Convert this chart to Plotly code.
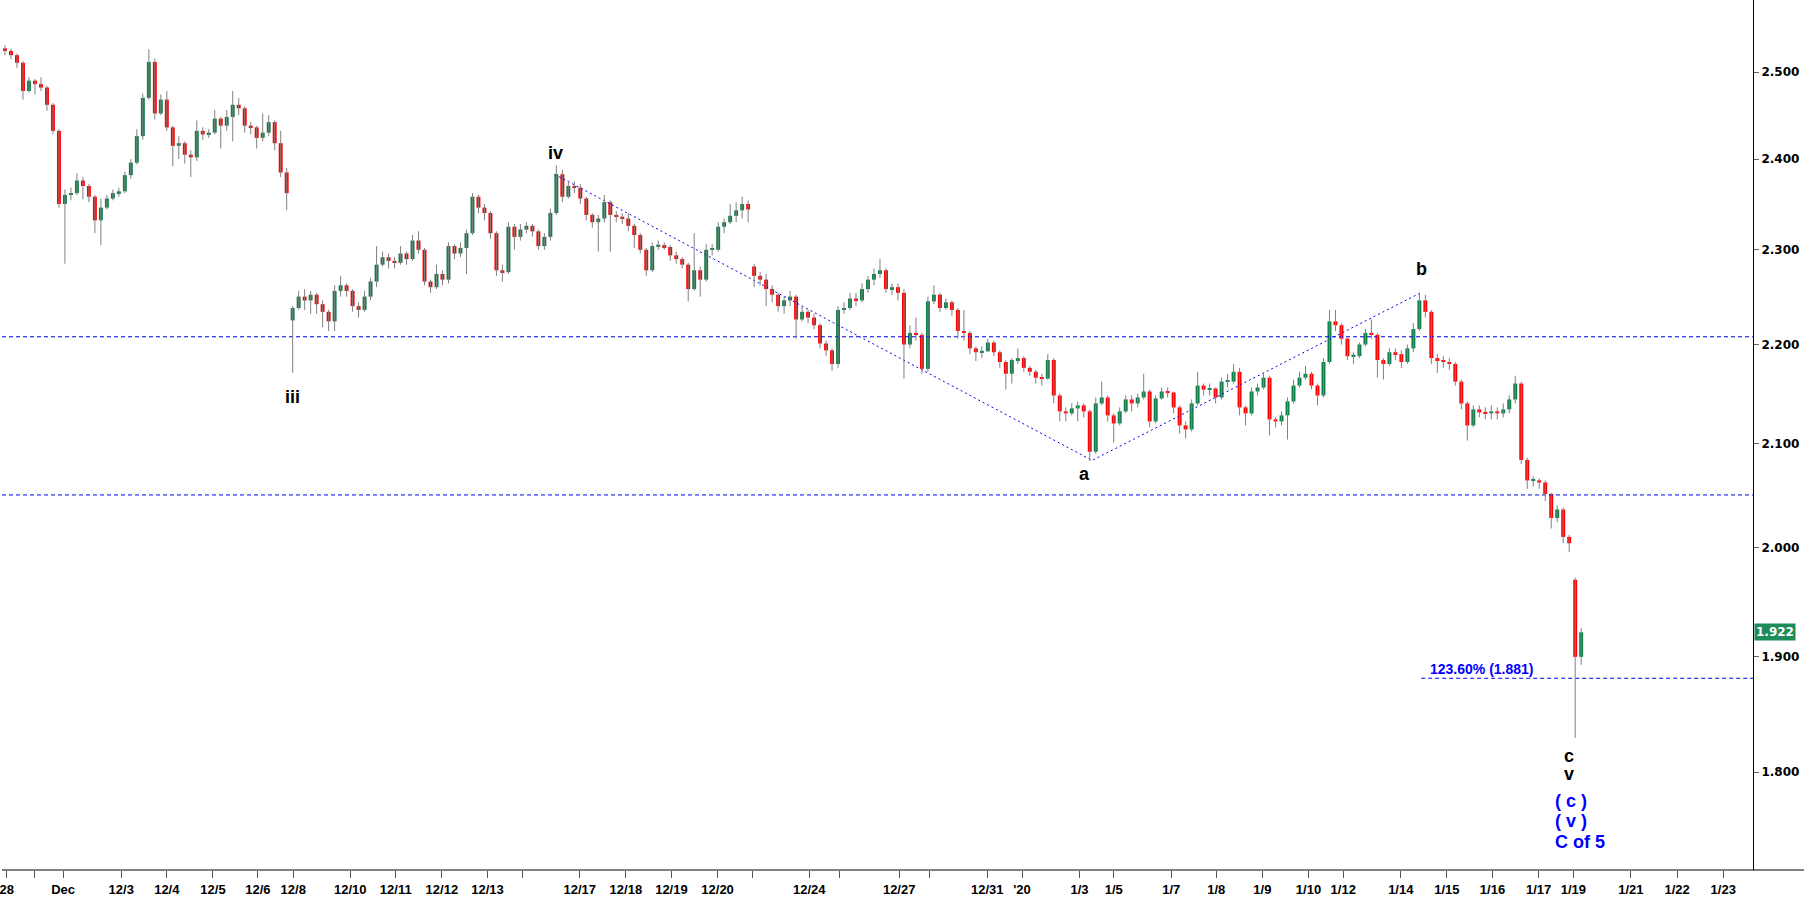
import numpy as np
import plotly.graph_objects as go

# bar-by-bar prices (one bar ~ 6 px)
open_ = [
    2.528, 2.525, 2.520, 2.511, 2.478, 2.490, 2.486, 2.482, 2.462, 2.432, 2.350, 2.360,
    2.362, 2.376, 2.370, 2.358, 2.332, 2.346, 2.356, 2.362, 2.364, 2.382, 2.396, 2.426,
    2.470, 2.512, 2.452, 2.468, 2.436, 2.415, 2.418, 2.405, 2.402, 2.432, 2.428, 2.430,
    2.446, 2.438, 2.448, 2.462, 2.458, 2.438, 2.436, 2.424, 2.430, 2.442, 2.418, 2.385,
    2.225, 2.238, 2.250, 2.246, 2.252, 2.242, 2.234, 2.224, 2.256, 2.262, 2.256, 2.240,
    2.236, 2.250, 2.266, 2.284, 2.292, 2.288, 2.286, 2.296, 2.290, 2.310, 2.300, 2.266,
    2.260, 2.274, 2.268, 2.304, 2.296, 2.302, 2.318, 2.358, 2.346, 2.340, 2.318, 2.278,
    2.276, 2.325, 2.314, 2.322, 2.326, 2.320, 2.304, 2.314, 2.340, 2.383, 2.358, 2.370,
    2.368, 2.356, 2.338, 2.330, 2.334, 2.352, 2.338, 2.336, 2.334, 2.326, 2.316, 2.300,
    2.278, 2.304, 2.305, 2.303, 2.294, 2.290, 2.284, 2.258, 2.278, 2.268, 2.300, 2.300,
    2.325, 2.330, 2.337, 2.343, 2.350, 2.282, 2.272, 2.268, 2.258, 2.252, 2.240, 2.246,
    2.250, 2.226, 2.234, 2.228, 2.220, 2.201, 2.194, 2.180, 2.236, 2.238, 2.248, 2.246,
    2.258, 2.268, 2.274, 2.278, 2.258, 2.260, 2.254, 2.200, 2.212, 2.210, 2.175, 2.245,
    2.252, 2.238, 2.244, 2.236, 2.214, 2.212, 2.196, 2.192, 2.193, 2.202, 2.192, 2.182,
    2.170, 2.184, 2.186, 2.176, 2.172, 2.166, 2.165, 2.184, 2.148, 2.132, 2.130, 2.135,
    2.138, 2.132, 2.092, 2.140, 2.146, 2.128, 2.120, 2.132, 2.144, 2.140, 2.146, 2.152,
    2.122, 2.145, 2.152, 2.151, 2.136, 2.118, 2.114, 2.140, 2.158, 2.154, 2.155, 2.146,
    2.162, 2.162, 2.172, 2.136, 2.130, 2.152, 2.156, 2.166, 2.124, 2.122, 2.128, 2.142,
    2.158, 2.166, 2.170, 2.158, 2.148, 2.182, 2.224, 2.220, 2.206, 2.188, 2.188, 2.200,
    2.212, 2.210, 2.184, 2.180, 2.192, 2.190, 2.182, 2.196, 2.216, 2.246, 2.234, 2.186,
    2.184, 2.182, 2.180, 2.162, 2.140, 2.118, 2.134, 2.131, 2.130, 2.132, 2.130, 2.134,
    2.144, 2.160, 2.084, 2.064, 2.064, 2.062, 2.051, 2.028, 2.036, 2.010, 1.970, 1.900,
]
high = [
    2.532, 2.528, 2.522, 2.513, 2.494, 2.492, 2.494, 2.484, 2.464, 2.434, 2.366, 2.368,
    2.384, 2.380, 2.372, 2.360, 2.356, 2.360, 2.366, 2.368, 2.386, 2.400, 2.434, 2.475,
    2.527, 2.516, 2.474, 2.478, 2.438, 2.426, 2.420, 2.410, 2.444, 2.436, 2.434, 2.456,
    2.448, 2.456, 2.478, 2.470, 2.460, 2.442, 2.438, 2.452, 2.450, 2.444, 2.432, 2.390,
    2.240, 2.256, 2.258, 2.256, 2.254, 2.246, 2.236, 2.262, 2.272, 2.264, 2.258, 2.244,
    2.256, 2.270, 2.304, 2.298, 2.296, 2.292, 2.304, 2.298, 2.316, 2.320, 2.302, 2.268,
    2.284, 2.278, 2.308, 2.306, 2.308, 2.322, 2.362, 2.360, 2.350, 2.342, 2.320, 2.284,
    2.330, 2.328, 2.328, 2.330, 2.328, 2.322, 2.318, 2.345, 2.393, 2.388, 2.376, 2.375,
    2.372, 2.358, 2.340, 2.338, 2.360, 2.354, 2.342, 2.340, 2.340, 2.328, 2.318, 2.302,
    2.308, 2.310, 2.308, 2.305, 2.298, 2.292, 2.286, 2.318, 2.282, 2.306, 2.306, 2.330,
    2.334, 2.350, 2.352, 2.358, 2.354, 2.285, 2.276, 2.274, 2.262, 2.254, 2.250, 2.256,
    2.252, 2.240, 2.236, 2.232, 2.222, 2.204, 2.196, 2.240, 2.244, 2.254, 2.254, 2.264,
    2.272, 2.280, 2.290, 2.280, 2.264, 2.264, 2.258, 2.220, 2.228, 2.212, 2.250, 2.262,
    2.254, 2.248, 2.246, 2.238, 2.236, 2.214, 2.198, 2.198, 2.206, 2.204, 2.194, 2.184,
    2.186, 2.196, 2.188, 2.178, 2.174, 2.170, 2.190, 2.186, 2.150, 2.136, 2.140, 2.142,
    2.140, 2.134, 2.146, 2.162, 2.148, 2.130, 2.136, 2.148, 2.148, 2.150, 2.170, 2.154,
    2.148, 2.156, 2.156, 2.152, 2.138, 2.122, 2.144, 2.172, 2.160, 2.160, 2.156, 2.166,
    2.170, 2.180, 2.176, 2.138, 2.156, 2.160, 2.170, 2.168, 2.126, 2.132, 2.146, 2.164,
    2.172, 2.178, 2.172, 2.160, 2.186, 2.236, 2.236, 2.222, 2.208, 2.192, 2.202, 2.216,
    2.226, 2.212, 2.186, 2.196, 2.196, 2.194, 2.200, 2.222, 2.254, 2.252, 2.236, 2.190,
    2.188, 2.186, 2.182, 2.164, 2.142, 2.138, 2.138, 2.136, 2.138, 2.136, 2.140, 2.148,
    2.168, 2.162, 2.086, 2.068, 2.066, 2.064, 2.052, 2.040, 2.038, 2.012, 1.972, 1.926,
]
low = [
    2.520, 2.515, 2.505, 2.468, 2.476, 2.474, 2.478, 2.455, 2.428, 2.346, 2.285, 2.354,
    2.360, 2.355, 2.352, 2.318, 2.305, 2.344, 2.354, 2.358, 2.362, 2.378, 2.394, 2.422,
    2.468, 2.445, 2.450, 2.432, 2.392, 2.400, 2.395, 2.380, 2.398, 2.422, 2.424, 2.428,
    2.412, 2.432, 2.420, 2.450, 2.430, 2.428, 2.412, 2.420, 2.426, 2.410, 2.380, 2.343,
    2.171, 2.236, 2.236, 2.232, 2.232, 2.218, 2.214, 2.214, 2.250, 2.250, 2.234, 2.228,
    2.234, 2.246, 2.260, 2.282, 2.280, 2.280, 2.284, 2.284, 2.288, 2.296, 2.262, 2.254,
    2.258, 2.262, 2.264, 2.290, 2.292, 2.274, 2.316, 2.340, 2.332, 2.312, 2.272, 2.266,
    2.274, 2.300, 2.310, 2.318, 2.314, 2.300, 2.300, 2.310, 2.338, 2.352, 2.356, 2.362,
    2.350, 2.332, 2.324, 2.298, 2.330, 2.298, 2.330, 2.328, 2.320, 2.302, 2.296, 2.272,
    2.276, 2.300, 2.300, 2.288, 2.285, 2.280, 2.245, 2.256, 2.250, 2.266, 2.294, 2.298,
    2.318, 2.328, 2.330, 2.334, 2.330, 2.260, 2.262, 2.240, 2.244, 2.234, 2.232, 2.240,
    2.206, 2.224, 2.222, 2.216, 2.196, 2.188, 2.173, 2.176, 2.232, 2.236, 2.240, 2.244,
    2.254, 2.262, 2.270, 2.254, 2.252, 2.246, 2.165, 2.196, 2.204, 2.170, 2.172, 2.242,
    2.234, 2.236, 2.230, 2.206, 2.204, 2.190, 2.183, 2.186, 2.192, 2.188, 2.176, 2.154,
    2.160, 2.180, 2.172, 2.168, 2.160, 2.158, 2.164, 2.140, 2.122, 2.122, 2.128, 2.122,
    2.126, 2.083, 2.090, 2.138, 2.122, 2.101, 2.118, 2.130, 2.132, 2.136, 2.144, 2.116,
    2.120, 2.144, 2.146, 2.130, 2.110, 2.105, 2.112, 2.138, 2.148, 2.148, 2.140, 2.144,
    2.156, 2.160, 2.128, 2.118, 2.128, 2.148, 2.154, 2.108, 2.116, 2.118, 2.104, 2.140,
    2.156, 2.164, 2.154, 2.138, 2.146, 2.180, 2.214, 2.200, 2.184, 2.180, 2.186, 2.198,
    2.206, 2.166, 2.164, 2.178, 2.184, 2.176, 2.180, 2.192, 2.214, 2.228, 2.180, 2.171,
    2.176, 2.174, 2.158, 2.134, 2.103, 2.116, 2.126, 2.124, 2.124, 2.124, 2.126, 2.130,
    2.140, 2.080, 2.056, 2.058, 2.056, 2.044, 2.018, 2.024, 2.004, 1.996, 1.829, 1.893,
]
close = [
    2.525, 2.520, 2.511, 2.478, 2.490, 2.486, 2.482, 2.462, 2.432, 2.350, 2.360, 2.362,
    2.376, 2.370, 2.358, 2.332, 2.346, 2.356, 2.362, 2.364, 2.382, 2.396, 2.426, 2.470,
    2.512, 2.452, 2.468, 2.436, 2.415, 2.418, 2.405, 2.402, 2.432, 2.428, 2.430, 2.446,
    2.438, 2.448, 2.462, 2.458, 2.438, 2.436, 2.424, 2.430, 2.442, 2.418, 2.385, 2.362,
    2.238, 2.250, 2.246, 2.252, 2.242, 2.234, 2.224, 2.256, 2.262, 2.256, 2.240, 2.236,
    2.250, 2.266, 2.284, 2.292, 2.288, 2.286, 2.296, 2.290, 2.310, 2.300, 2.266, 2.260,
    2.274, 2.268, 2.304, 2.296, 2.302, 2.318, 2.358, 2.346, 2.340, 2.318, 2.278, 2.276,
    2.325, 2.314, 2.322, 2.326, 2.320, 2.304, 2.314, 2.340, 2.383, 2.358, 2.370, 2.368,
    2.356, 2.338, 2.330, 2.334, 2.352, 2.338, 2.336, 2.334, 2.326, 2.316, 2.300, 2.278,
    2.304, 2.305, 2.303, 2.294, 2.290, 2.284, 2.258, 2.278, 2.268, 2.300, 2.300, 2.325,
    2.330, 2.337, 2.343, 2.350, 2.344, 2.272, 2.268, 2.258, 2.252, 2.240, 2.246, 2.250,
    2.226, 2.234, 2.228, 2.220, 2.201, 2.194, 2.180, 2.236, 2.238, 2.248, 2.246, 2.258,
    2.268, 2.274, 2.278, 2.258, 2.260, 2.254, 2.200, 2.212, 2.210, 2.175, 2.245, 2.252,
    2.238, 2.244, 2.236, 2.214, 2.212, 2.196, 2.192, 2.193, 2.202, 2.192, 2.182, 2.170,
    2.184, 2.186, 2.176, 2.172, 2.166, 2.165, 2.184, 2.148, 2.132, 2.130, 2.135, 2.138,
    2.132, 2.092, 2.140, 2.146, 2.128, 2.120, 2.132, 2.144, 2.140, 2.146, 2.152, 2.122,
    2.145, 2.152, 2.151, 2.136, 2.118, 2.114, 2.140, 2.158, 2.154, 2.155, 2.146, 2.162,
    2.162, 2.172, 2.136, 2.130, 2.152, 2.156, 2.166, 2.124, 2.122, 2.128, 2.142, 2.158,
    2.166, 2.170, 2.158, 2.148, 2.182, 2.224, 2.220, 2.206, 2.188, 2.188, 2.200, 2.212,
    2.210, 2.184, 2.180, 2.192, 2.190, 2.182, 2.196, 2.216, 2.246, 2.234, 2.186, 2.184,
    2.182, 2.180, 2.162, 2.140, 2.118, 2.134, 2.131, 2.130, 2.132, 2.130, 2.134, 2.144,
    2.160, 2.084, 2.064, 2.064, 2.062, 2.051, 2.028, 2.036, 2.010, 2.004, 1.900, 1.922,
]

# date ticks (in bar units), blank text = unlabeled tick
tick_pos = [0.3, 4.9, 9.7, 19.4, 27.0, 34.7, 42.2, 48.1, 57.6, 65.2, 72.9, 80.5,
            86.4, 95.9, 103.6, 111.2, 118.9, 124.8, 134.2, 139.2, 149.2, 154.3,
            163.9, 169.7, 179.3, 185.0, 194.6, 202.1, 209.8, 217.5, 223.3, 232.9,
            240.6, 248.2, 255.9, 261.7, 271.3, 279.0, 286.7]
tick_text = ['28', '', 'Dec', '12/3', '12/4', '12/5', '12/6', '12/8', '12/10', '12/11',
             '12/12', '12/13', '', '12/17', '12/18', '12/19', '12/20', '', '12/24', '',
             '12/27', '', '12/31', "'20", '1/3', '1/5', '1/7', '1/8', '1/9', '1/10',
             '1/12', '1/14', '1/15', '1/16', '1/17', '1/19', '1/21', '1/22', '1/23']
price_ticks = [1.8, 1.9, 2.0, 2.1, 2.2, 2.3, 2.4, 2.5]

# wave count
wave_labels = ['iii', 'iv', 'a', 'b', 'c', 'v']
wave_label_x = [48.0, 91.8, 180.2, 236.3, 261.0, 261.0]
wave_label_y = [2.146, 2.407, 2.070, 2.279, 1.814, 1.798]
blue_labels = ['( c )', '( v )', 'C of 5']
blue_label_y = [1.776, 1.759, 1.742]
wave_line_x = [91.7, 181.4, 236.2]
wave_line_y = [2.383, 2.0835, 2.254]
h_levels = [2.208, 2.050]
fib_level = 1.881
fib_start = 236.3

UP = '#0f7f4a'
DOWN = '#ff0000'
WICK = '#808080'
LINE_BLUE = '#0000ee'

X_MIN, X_MAX = -0.5, 291.67
Y_MIN, Y_MAX = 1.7191, 2.5861

idx = list(range(len(close)))
wick_x, wick_y = [], []
for i in idx:
    wick_x += [i, i, None]
    wick_y += [low[i], high[i], None]

body_base = [min(o, c) for o, c in zip(open_, close)]
body_size = [max(abs(c - o), 0.0015) for o, c in zip(open_, close)]
body_color = [UP if c >= o else DOWN for o, c in zip(open_, close)]

traces = []
for lvl in h_levels:
    traces.append(go.Scatter(x=[X_MIN, X_MAX], y=[lvl, lvl], mode='lines',
                             line=dict(color=LINE_BLUE, width=1, dash='4px,3px'),
                             hoverinfo='skip'))
traces.append(go.Scatter(x=[fib_start, X_MAX], y=[fib_level, fib_level], mode='lines',
                         line=dict(color=LINE_BLUE, width=1, dash='4px,3px'),
                         hoverinfo='skip'))
traces.append(go.Scatter(x=wave_line_x, y=wave_line_y, mode='lines',
                         line=dict(color=LINE_BLUE, width=1, dash='2px,3px'),
                         hoverinfo='skip'))
traces.append(go.Scatter(x=wick_x, y=wick_y, mode='lines',
                         line=dict(color=WICK, width=1), hoverinfo='skip'))
traces.append(go.Bar(x=idx, y=body_size, base=body_base, width=0.66,
                     marker=dict(color=body_color, line=dict(width=0))))

fig = go.Figure(data=traces)

for txt, x, y in zip(wave_labels, wave_label_x, wave_label_y):
    fig.add_annotation(x=x, y=np.log10(y), text=txt, showarrow=False,
                       font=dict(family='Liberation Sans, Arial', size=18, color='black',
                                 weight='bold'))
for txt, y in zip(blue_labels, blue_label_y):
    fig.add_annotation(x=258.3, y=np.log10(y), text=txt, showarrow=False, xanchor='left',
                       font=dict(family='Liberation Sans, Arial', size=18, color='#0000ff',
                                 weight='bold'))
fig.add_annotation(x=fib_start + 1.1, y=np.log10(1.8894), xanchor='left',
                   text=f'123.60% ({fib_level:.3f})', showarrow=False,
                   font=dict(family='Liberation Sans, Arial', size=14, color='#0000ff',
                             weight='bold'))
# last price tag on the axis
fig.add_annotation(xref='paper', x=1, xanchor='left', xshift=1, y=np.log10(close[-1]),
                   text=f'{close[-1]:.3f}', showarrow=False, bgcolor='#1d8b5a',
                   borderpad=1,
                   font=dict(family='DejaVu Sans', size=12, color='white', weight='bold'))

fig.add_shape(type='line', xref='paper', yref='paper', x0=0, x1=1804 / 1753, y0=0, y1=0,
              line=dict(color='black', width=1))

fig.update_layout(
    width=1804, height=897,
    margin=dict(l=0, r=51, t=0, b=23),
    plot_bgcolor='white', paper_bgcolor='white',
    showlegend=False, barmode='overlay',
    xaxis=dict(range=[X_MIN, X_MAX], tickvals=tick_pos, ticktext=tick_text,
               ticks='outside', ticklen=7, tickcolor='#555', showgrid=False,
               zeroline=False, showline=False, ticklabeloverflow='allow',
               tickfont=dict(family='Liberation Sans, Arial', size=13, color='black',
                             weight='bold')),
    yaxis=dict(type='log', range=[np.log10(Y_MIN), np.log10(Y_MAX)], side='right',
               tickvals=price_ticks, ticktext=[f'{p:.3f}' for p in price_ticks],
               ticks='outside', ticklen=5, tickcolor='#666', showgrid=False,
               zeroline=False, showline=True, linecolor='black', linewidth=1,
               tickfont=dict(family='DejaVu Sans', size=12, color='black',
                             weight='bold')),
)

# the page's default 8px body margin would push the chart out of the window
fig.write_html("out.html", config={'displayModeBar': False},
               post_script="document.body.style.margin='0px';")
